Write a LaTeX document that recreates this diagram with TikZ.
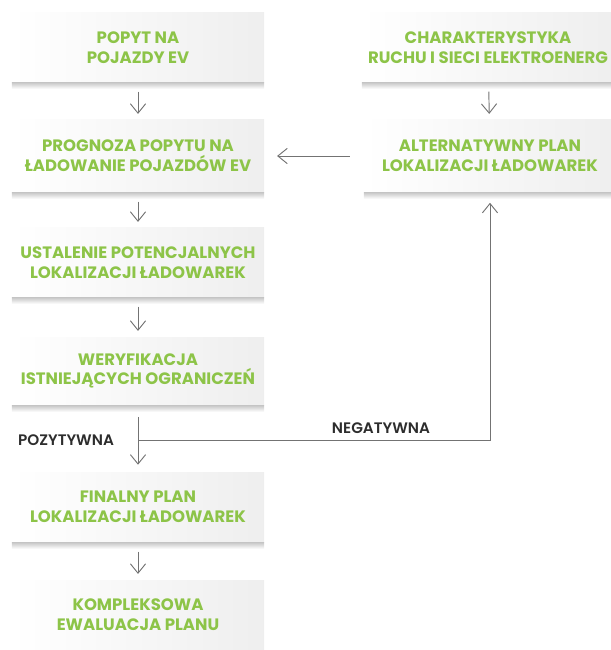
\documentclass[tikz,border=0pt]{standalone}
\usepackage{fontspec}
\setmainfont{Poppins}[UprightFont=*-Bold]
\newfontfamily\labelfont{Poppins}[UprightFont=*-SemiBold]
\usepackage{tikz}
\usetikzlibrary{arrows.meta}
\definecolor{evgreen}{RGB}{141,196,72}
\definecolor{linegray}{RGB}{115,115,115}
\definecolor{labelgray}{RGB}{45,45,45}
\tikzset{
  stepbox/.style={minimum width=7.56cm,minimum height=2.1cm,inner sep=0pt,
    left color=white,right color=gray!13,align=center,text=evgreen,
    font=\fontsize{14.1}{16.8}\selectfont},
  flow/.style={draw=linegray,line width=0.8pt,-{Straight Barb[length=8pt,width=13pt]}},
  branchlabel/.style={text=labelgray,font=\labelfont\fontsize{13}{15}\selectfont}
}

\begin{document}
\begin{tikzpicture}[x=0.03cm,y=-0.03cm]
			\useasboundingbox (0,0) rectangle (610,650);
			% boxes
			\node[stepbox,minimum height=2.07cm] (demand) at (138,47.5) {POPYT NA\\POJAZDY EV};
			\node[stepbox,minimum height=2.16cm] (forecast) at (138,156) {PROGNOZA POPYTU NA\\ŁADOWANIE POJAZDÓW EV};
			\node[stepbox,minimum height=2.07cm] (sites) at (138,262.5) {USTALENIE POTENCJALNYCH\\LOKALIZACJI ŁADOWAREK};
			\node[stepbox,minimum height=2.04cm] (verify) at (138,371) {WERYFIKACJA\\ISTNIEJĄCYCH OGRANICZEŃ};
			\node[stepbox] (final) at (138,507) {FINALNY PLAN\\LOKALIZACJI ŁADOWAREK};
			\node[stepbox] (evaluate) at (138,615) {KOMPLEKSOWA\\EWALUACJA PLANU};
			\node[stepbox,minimum height=2.07cm] (traffic) at (488,47.5) {CHARAKTERYSTYKA\\RUCHU I SIECI ELEKTROENERG};
			\node[stepbox,minimum height=2.16cm] (altplan) at (490,156) {ALTERNATYWNY PLAN\\LOKALIZACJI ŁADOWAREK};
			% shadows
			\foreach \n in {demand,forecast,sites,verify,final,traffic,altplan}
				\fill[top color=gray!45,bottom color=white] (\n.south west) rectangle ([yshift=-0.2cm]\n.south east);
			% arrows
			\draw[flow,shorten <=8, shorten >=5] (demand) -- (forecast);
			\draw[flow,shorten <=8, shorten >=5] (forecast) -- (sites);
			\draw[flow,shorten <=8, shorten >=5] (sites) -- (verify);
			\draw[flow,shorten <=8, shorten >=5] (final) -- (evaluate);
			\draw[flow,shorten <=8, shorten >=5] (traffic) -- (altplan);
			\draw[flow,shorten <=12, shorten >=11] (altplan.west) -- (forecast.east);
			% decision
			\coordinate (split) at (138,440);
			\draw[flow,shorten <=10, shorten >=6] (verify) -- (final);
			\draw[flow,shorten >=9] (split) -| (altplan.south);
			% label
			\node[branchlabel] (pos) at (66,440) {POZYTYWNA};
			\node[branchlabel] (neg) at (381,428) {NEGATYWNA};
		\end{tikzpicture}
\end{document}
